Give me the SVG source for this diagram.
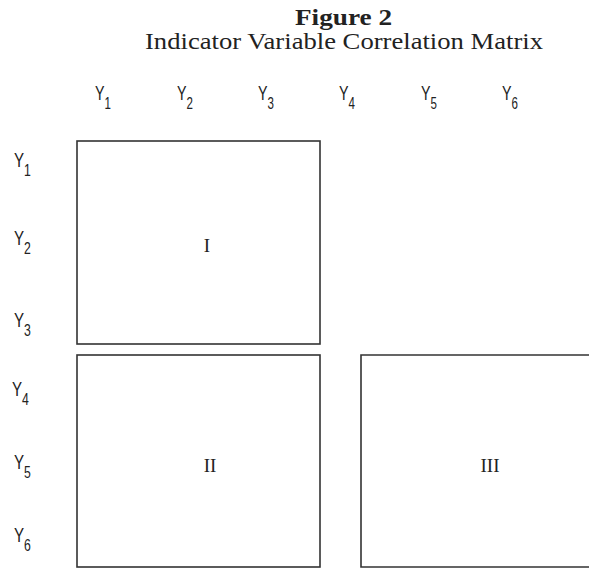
<svg xmlns="http://www.w3.org/2000/svg" width="589" height="569" viewBox="0 0 589 569">
<style>
.title{font-family:"Liberation Serif",serif;fill:#222}
.lab{font-family:"Liberation Sans",sans-serif;font-size:21px;fill:#222}
.sub{font-size:17px}
.rom{font-family:"Liberation Serif",serif;font-size:19px;fill:#222;text-anchor:middle}
.box{fill:none;stroke:#333;stroke-width:1.6}
</style>
<rect width="589" height="569" fill="#fff"/>
<g id="title">
<text class="title" x="295" y="25" font-size="24" font-weight="bold" textLength="97" lengthAdjust="spacingAndGlyphs">Figure 2</text>
<text class="title" x="145" y="49" font-size="23" textLength="398" lengthAdjust="spacingAndGlyphs">Indicator Variable Correlation Matrix</text>
</g>
<g id="col-labels">
<text class="lab" transform="translate(95,100) scale(0.68,1)">Y<tspan class="sub" dy="9">1</tspan></text>
<text class="lab" transform="translate(177,100) scale(0.68,1)">Y<tspan class="sub" dy="9">2</tspan></text>
<text class="lab" transform="translate(258,100) scale(0.68,1)">Y<tspan class="sub" dy="9">3</tspan></text>
<text class="lab" transform="translate(339,100) scale(0.68,1)">Y<tspan class="sub" dy="9">4</tspan></text>
<text class="lab" transform="translate(421,100) scale(0.68,1)">Y<tspan class="sub" dy="9">5</tspan></text>
<text class="lab" transform="translate(502,100) scale(0.68,1)">Y<tspan class="sub" dy="9">6</tspan></text>
</g>
<g id="row-labels">
<text class="lab" transform="translate(14,167) scale(0.72,1)">Y<tspan class="sub" dy="9">1</tspan></text>
<text class="lab" transform="translate(14,245) scale(0.72,1)">Y<tspan class="sub" dy="9">2</tspan></text>
<text class="lab" transform="translate(14,327) scale(0.72,1)">Y<tspan class="sub" dy="9">3</tspan></text>
<text class="lab" transform="translate(12,396) scale(0.72,1)">Y<tspan class="sub" dy="9">4</tspan></text>
<text class="lab" transform="translate(14,469) scale(0.72,1)">Y<tspan class="sub" dy="9">5</tspan></text>
<text class="lab" transform="translate(14,542) scale(0.72,1)">Y<tspan class="sub" dy="9">6</tspan></text>
</g>
<g id="block-I">
<rect class="box" x="77" y="141" width="243" height="203"/>
<text class="rom" x="207" y="252">I</text>
</g>
<g id="block-II">
<rect class="box" x="77" y="355" width="243" height="212"/>
<text class="rom" x="210" y="472">II</text>
</g>
<g id="block-III">
<path class="box" d="M589 355 H361 V567 H589"/>
<text class="rom" x="490" y="472">III</text>
</g>
</svg>
